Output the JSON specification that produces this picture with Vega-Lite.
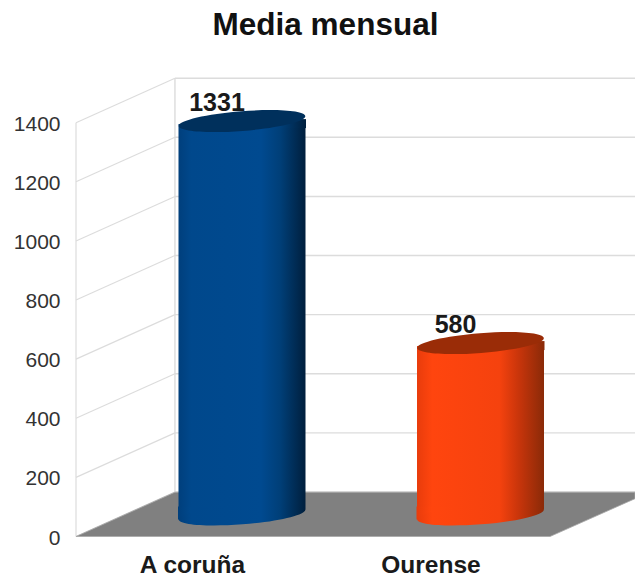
{"$schema":"https://vega.github.io/schema/vega-lite/v6.json","width":635,"height":578,"padding":0,"autosize":{"type":"none"},"background":"white","config":{"view":{"stroke":null},"font":"Liberation Sans"},"title":{"text":"Media mensual","fontSize":31.5,"fontWeight":"bold","font":"Liberation Sans","color":"#111111","anchor":"middle","frame":"group","dx":8,"dy":29.5,"baseline":"alphabetic","offset":-37},"datasets":{"cities":[{"city":"A coruña","value":1331},{"city":"Ourense","value":580}],"levels":[{"level":0},{"level":200},{"level":400},{"level":600},{"level":800},{"level":1000},{"level":1200},{"level":1400}],"floor":[{"along":0,"back":0,"front":0},{"along":0.177,"back":150,"front":0},{"along":0.848,"back":150,"front":0},{"along":1,"back":150,"front":128}]},"resolve":{"scale":{"x":"independent"},"axis":{"x":"independent"}},"layer":[{"data":{"name":"levels"},"mark":{"type":"rule","stroke":"#dcdcdc","strokeWidth":1.4,"yOffset":-44.5},"encoding":{"x":{"datum":0.177,"type":"quantitative","scale":{"domain":[0,1],"range":[76,635]},"axis":null},"x2":{"datum":1},"y":{"field":"level","type":"quantitative","scale":{"domain":[0,1400],"range":[536.5,122.7]},"axis":{"values":[0,200,400,600,800,1000,1200,1400],"format":"d","title":null,"domain":false,"ticks":false,"grid":false,"offset":-76,"labelPadding":16,"labelFontSize":21,"labelOffset":1.5,"labelColor":"#333333","labelFont":"Liberation Sans"}}}},{"data":{"name":"levels"},"mark":{"type":"rule","stroke":"#dcdcdc","strokeWidth":1.2,"y2Offset":-44.5},"encoding":{"x":{"datum":0,"type":"quantitative","scale":{"domain":[0,1],"range":[76,635]},"axis":null},"x2":{"datum":0.177},"y":{"field":"level","type":"quantitative"},"y2":{"field":"level"}}},{"data":{"values":[{"low":0,"high":1400}]},"mark":{"type":"rule","stroke":"#dcdcdc","strokeWidth":1.2},"encoding":{"x":{"datum":0,"type":"quantitative","scale":{"domain":[0,1],"range":[76,635]},"axis":null},"y":{"field":"low","type":"quantitative"},"y2":{"field":"high"}}},{"data":{"values":[{"low":0,"high":1400}]},"mark":{"type":"rule","stroke":"#dcdcdc","strokeWidth":1.4,"yOffset":-44.5,"y2Offset":-44.5},"encoding":{"x":{"datum":0.177,"type":"quantitative","scale":{"domain":[0,1],"range":[76,635]},"axis":null},"y":{"field":"low","type":"quantitative"},"y2":{"field":"high"}}},{"data":{"name":"floor"},"mark":{"type":"area","fill":"#808080","opacity":1,"stroke":"#a8a8a8","strokeWidth":0.8},"encoding":{"x":{"field":"along","type":"quantitative","scale":{"domain":[0,1],"range":[76,635]},"axis":null},"y":{"field":"back","type":"quantitative"},"y2":{"field":"front"}}},
{"data":{"name":"cities"},"transform":[{"filter":"datum.city === 'A coruña'"}],"mark":{"type":"bar","width":127,"xOffset":50,"yOffset":-19,"y2Offset":-27,"fill":{"x1":0,"x2":1,"y1":0,"y2":0,"gradient":"linear","stops":[{"offset":0,"color":"#003f7c"},{"offset":0.1,"color":"#00488c"},{"offset":0.65,"color":"#004a90"},{"offset":0.8,"color":"#003f78"},{"offset":1,"color":"#001f3d"}]}},"encoding":{"x":{"field":"city","type":"nominal","scale":{"type":"point","padding":0,"domain":["A coruña","Ourense"],"range":[192,430.5]},"axis":null},"y":{"field":"value","type":"quantitative"},"y2":{"datum":0}}},
{"data":{"name":"cities"},"transform":[{"filter":"datum.city === 'A coruña'"}],"mark":{"type":"bar","width":30,"xOffset":99,"yOffset":-24,"y2Offset":-15,"fill":{"x1":0,"x2":1,"y1":0,"y2":0,"gradient":"linear","stops":[{"offset":0,"color":"#004180"},{"offset":0.15,"color":"#003f78"},{"offset":1,"color":"#001f3d"}]}},"encoding":{"x":{"field":"city","type":"nominal","scale":{"type":"point","padding":0,"domain":["A coruña","Ourense"],"range":[192,430.5]},"axis":null},"y":{"field":"value","type":"quantitative"},"y2":{"field":"value"}}},
{"data":{"name":"cities"},"transform":[{"filter":"datum.city === 'A coruña'"}],"mark":{"type":"bar","width":30,"xOffset":1,"yOffset":-30,"y2Offset":-17,"fill":{"x1":0,"x2":1,"y1":0,"y2":0,"gradient":"linear","stops":[{"offset":0,"color":"#003f7c"},{"offset":0.42,"color":"#00488c"},{"offset":1,"color":"#00488d"}]}},"encoding":{"x":{"field":"city","type":"nominal","scale":{"type":"point","padding":0,"domain":["A coruña","Ourense"],"range":[192,430.5]},"axis":null},"y":{"datum":0,"type":"quantitative"},"y2":{"datum":0}}},
{"data":{"name":"cities"},"transform":[{"filter":"datum.city === 'A coruña'"}],"mark":{"type":"point","filled":true,"opacity":1,"size":16129,"xOffset":50,"yOffset":-22,"shape":"M-0.997,0.078A1,0.155,-4.5,1,1,0.997,-0.078A1,0.155,-4.5,1,1,-0.997,0.078Z","fill":{"x1":0,"x2":1,"y1":0,"y2":0,"gradient":"linear","stops":[{"offset":0,"color":"#003f7c"},{"offset":0.1,"color":"#00488c"},{"offset":0.65,"color":"#004a90"},{"offset":0.8,"color":"#003f78"},{"offset":1,"color":"#001f3d"}]}},"encoding":{"x":{"field":"city","type":"nominal","scale":{"type":"point","padding":0,"domain":["A coruña","Ourense"],"range":[192,430.5]},"axis":null},"y":{"datum":0,"type":"quantitative"}}},
{"data":{"name":"cities"},"transform":[{"filter":"datum.city === 'Ourense'"}],"mark":{"type":"bar","width":127,"xOffset":50,"yOffset":-19,"y2Offset":-27,"fill":{"x1":0,"x2":1,"y1":0,"y2":0,"gradient":"linear","stops":[{"offset":0,"color":"#e83c0c"},{"offset":0.12,"color":"#ff450e"},{"offset":0.65,"color":"#f5420e"},{"offset":0.8,"color":"#c9350b"},{"offset":1,"color":"#8a2a08"}]}},"encoding":{"x":{"field":"city","type":"nominal","scale":{"type":"point","padding":0,"domain":["A coruña","Ourense"],"range":[192,430.5]},"axis":null},"y":{"field":"value","type":"quantitative"},"y2":{"datum":0}}},
{"data":{"name":"cities"},"transform":[{"filter":"datum.city === 'Ourense'"}],"mark":{"type":"bar","width":30,"xOffset":99,"yOffset":-24,"y2Offset":-15,"fill":{"x1":0,"x2":1,"y1":0,"y2":0,"gradient":"linear","stops":[{"offset":0,"color":"#d63a0c"},{"offset":0.15,"color":"#c9350b"},{"offset":1,"color":"#8a2a08"}]}},"encoding":{"x":{"field":"city","type":"nominal","scale":{"type":"point","padding":0,"domain":["A coruña","Ourense"],"range":[192,430.5]},"axis":null},"y":{"field":"value","type":"quantitative"},"y2":{"field":"value"}}},
{"data":{"name":"cities"},"transform":[{"filter":"datum.city === 'Ourense'"}],"mark":{"type":"bar","width":30,"xOffset":1,"yOffset":-30,"y2Offset":-17,"fill":{"x1":0,"x2":1,"y1":0,"y2":0,"gradient":"linear","stops":[{"offset":0,"color":"#e83c0c"},{"offset":0.5,"color":"#ff450e"},{"offset":1,"color":"#fd450e"}]}},"encoding":{"x":{"field":"city","type":"nominal","scale":{"type":"point","padding":0,"domain":["A coruña","Ourense"],"range":[192,430.5]},"axis":null},"y":{"datum":0,"type":"quantitative"},"y2":{"datum":0}}},
{"data":{"name":"cities"},"transform":[{"filter":"datum.city === 'Ourense'"}],"mark":{"type":"point","filled":true,"opacity":1,"size":16129,"xOffset":50,"yOffset":-22,"shape":"M-0.997,0.078A1,0.155,-4.5,1,1,0.997,-0.078A1,0.155,-4.5,1,1,-0.997,0.078Z","fill":{"x1":0,"x2":1,"y1":0,"y2":0,"gradient":"linear","stops":[{"offset":0,"color":"#e83c0c"},{"offset":0.12,"color":"#ff450e"},{"offset":0.65,"color":"#f5420e"},{"offset":0.8,"color":"#c9350b"},{"offset":1,"color":"#8a2a08"}]}},"encoding":{"x":{"field":"city","type":"nominal","scale":{"type":"point","padding":0,"domain":["A coruña","Ourense"],"range":[192,430.5]},"axis":null},"y":{"datum":0,"type":"quantitative"}}},
{"data":{"name":"cities"},"mark":{"type":"point","filled":true,"opacity":1,"size":16129,"xOffset":50,"yOffset":-22,"shape":"M-0.997,0.078A1,0.155,-4.5,1,1,0.997,-0.078A1,0.155,-4.5,1,1,-0.997,0.078Z"},"encoding":{"x":{"field":"city","type":"nominal","scale":{"type":"point","padding":0,"domain":["A coruña","Ourense"],"range":[192,430.5]},"axis":null},"y":{"field":"value","type":"quantitative"},"color":{"field":"city","type":"nominal","scale":{"domain":["A coruña","Ourense"],"range":["#00305c","#9a2c07"]},"legend":null}}},
{"data":{"name":"cities"},"mark":{"type":"text","font":"Liberation Sans","fontWeight":"bold","fontSize":25,"color":"#1a1a1a","baseline":"alphabetic","align":"center","dx":25,"dy":-32.5},"encoding":{"x":{"field":"city","type":"nominal","scale":{"type":"point","padding":0,"domain":["A coruña","Ourense"],"range":[192,430.5]},"axis":{"title":null,"domain":false,"ticks":false,"grid":false,"labelAngle":0,"labelFontSize":24.5,"labelFontWeight":"bold","labelColor":"#1a1a1a","labelFont":"Liberation Sans","offset":-25,"labelPadding":0}},"y":{"field":"value","type":"quantitative"},"text":{"field":"value","type":"quantitative"}}}]}
